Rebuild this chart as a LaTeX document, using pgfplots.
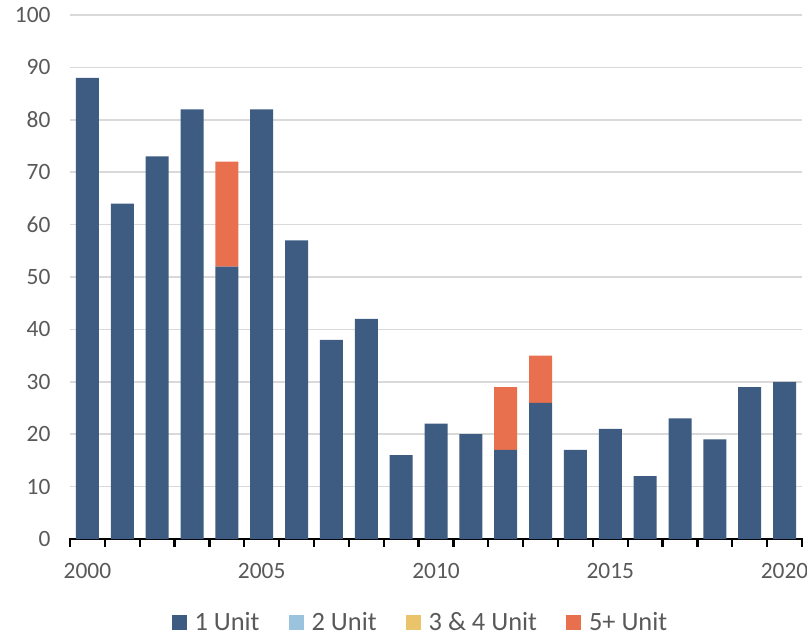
\documentclass[border=0pt]{standalone}
\usepackage{fontspec}
\setmainfont{Carlito}
\usepackage{pgfplots}
\pgfplotsset{compat=1.18}

\definecolor{unitone}{HTML}{3E5B82}
\definecolor{unittwo}{HTML}{9BC3DE}
\definecolor{unitthree}{HTML}{E9C46A}
\definecolor{unitfive}{HTML}{E8704F}
\definecolor{labelgray}{HTML}{595959}
\definecolor{gridgray}{HTML}{D9D9D9}

\begin{document}
\begin{tikzpicture}
\begin{axis}[
  scale only axis,
  width=732bp, height=524bp,
  ybar stacked,
  bar width=23bp,
  xmin=1999.5, xmax=2020.5,
  ymin=0, ymax=100,
  % tick marks sit between the bars; year labels come from the extra ticks
  xtick={1999.5,2000.5,...,2020.5},
  xticklabels={},
  extra x ticks={2000,2005,2010,2015,2020},
  extra x tick style={major tick length=0pt, grid=none},
  ytick={0,10,...,100},
  axis lines*=left,
  y axis line style={draw=none},
  x axis line style={black, line width=2.7bp, shorten <=-1.3bp, shorten >=-1.3bp},
  xtick align=outside,
  major x tick style={black, line width=2.4bp},
  major tick length=7.5bp,
  major y tick style={draw=none},
  ymajorgrids,
  grid style={gridgray, line width=1.5bp},
  /pgf/number format/assume math mode=true,
  /pgf/number format/1000 sep={},
  tick label style={font=\fontsize{23.5}{27}\selectfont, text=labelgray},
  yticklabel style={xshift=-16bp},
  xticklabel style={yshift=-21bp},
  legend style={
    at={(0.478,-0.159)}, anchor=center,
    draw=none, fill=none,
    font=\fontsize{26.5}{30}\selectfont, text=labelgray,
    legend columns=4,
    nodes={inner sep=1bp},
    /tikz/every odd column/.append style={column sep=7bp},
    /tikz/every even column/.append style={column sep=28bp},
    inner sep=0pt,
  },
  legend image code/.code={
    \fill[#1] (0bp,-7.5bp) rectangle (15bp,7.5bp);
  },
  legend cell align=left,
]
% single-family homes
\addplot[fill=unitone, draw=none] coordinates {
  (2000,88) (2001,64) (2002,73) (2003,82) (2004,52) (2005,82) (2006,57)
  (2007,38) (2008,42) (2009,16) (2010,22) (2011,20) (2012,17) (2013,26)
  (2014,17) (2015,21) (2016,12) (2017,23) (2018,19) (2019,29) (2020,30)};
\addlegendentry{1 Unit}
% two-unit buildings
\addplot[fill=unittwo, draw=none] coordinates {
  (2000,0) (2001,0) (2002,0) (2003,0) (2004,0) (2005,0) (2006,0)
  (2007,0) (2008,0) (2009,0) (2010,0) (2011,0) (2012,0) (2013,0)
  (2014,0) (2015,0) (2016,0) (2017,0) (2018,0) (2019,0) (2020,0)};
\addlegendentry{2 Unit}
% three- and four-unit buildings
\addplot[fill=unitthree, draw=none] coordinates {
  (2000,0) (2001,0) (2002,0) (2003,0) (2004,0) (2005,0) (2006,0)
  (2007,0) (2008,0) (2009,0) (2010,0) (2011,0) (2012,0) (2013,0)
  (2014,0) (2015,0) (2016,0) (2017,0) (2018,0) (2019,0) (2020,0)};
\addlegendentry{3 \& 4 Unit}
% five or more units
\addplot[fill=unitfive, draw=none] coordinates {
  (2000,0) (2001,0) (2002,0) (2003,0) (2004,20) (2005,0) (2006,0)
  (2007,0) (2008,0) (2009,0) (2010,0) (2011,0) (2012,12) (2013,9)
  (2014,0) (2015,0) (2016,0) (2017,0) (2018,0) (2019,0) (2020,0)};
\addlegendentry{5+ Unit}
\end{axis}
\pgfresetboundingbox
\path[use as bounding box] (-70bp,-99bp) rectangle (737bp,539bp);
\end{tikzpicture}
\end{document}
